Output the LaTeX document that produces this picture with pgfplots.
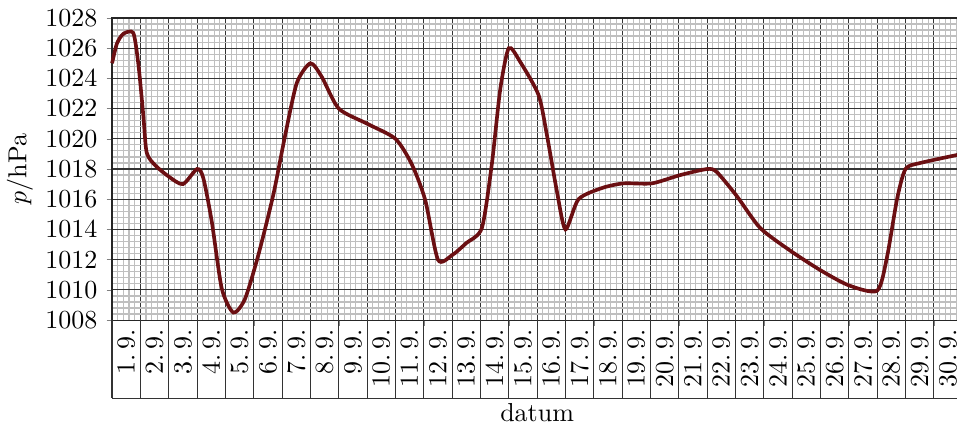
\documentclass[border=0pt]{standalone}
\usepackage{pgfplots}
\pgfplotsset{compat=1.18}
\definecolor{curve}{HTML}{6B0F12}
\begin{document}
\begin{tikzpicture}
\begin{axis}[
  scale only axis,
  width=326.9pt, height=116.2pt,
  xmin=0, xmax=30, ymin=1008, ymax=1028,
  clip=false,
  /pgf/number format/1000 sep={},
  xtick={0,1,...,30}, xticklabels={},
  ytick={1008,1010,...,1028},
  minor x tick num=4,
  minor ytick={1008.4,1008.8,1009.2,1009.6,1010.4,1010.8,1011.2,1011.6,1012.4,1012.8,1013.2,1013.6,1014.4,1014.8,1015.2,1015.6,1016.4,1016.8,1017.2,1017.6,1018.4,1018.8,1019.2,1019.6,1020.4,1020.8,1021.2,1021.6,1022.4,1022.8,1023.2,1023.6,1024.4,1024.8,1025.2,1025.6,1026.4,1026.8,1027.2,1027.6},
  grid=both,
  major grid style={black!80, line width=0.45pt},
  minor grid style={black!25, line width=0.45pt},
  axis line style={black!85, line width=0.45pt},
  tick align=outside, major tick length=2.1pt, minor tick length=0pt,
  xtick pos=bottom, ytick pos=left,
  extra x ticks={0.5,1.5,...,29.5},
  extra x tick labels={1.\,9.,2.\,9.,3.\,9.,4.\,9.,5.\,9.,6.\,9.,7.\,9.,8.\,9.,9.\,9.,10.\,9.,11.\,9.,12.\,9.,13.\,9.,14.\,9.,15.\,9.,16.\,9.,17.\,9.,18.\,9.,19.\,9.,20.\,9.,21.\,9.,22.\,9.,23.\,9.,24.\,9.,25.\,9.,26.\,9.,27.\,9.,28.\,9.,29.\,9.,30.\,9.},
  extra x tick style={grid=none, major tick length=0pt, xticklabel style={rotate=90, anchor=east}},
  xlabel={datum},
  xlabel style={at={(axis description cs:0.5,0)}, anchor=north, yshift=-28.7pt},
  ylabel={$p$/hPa},
  ylabel shift=-2pt,
]
\addplot[curve, line width=1.4pt, smooth, tension=0.42] coordinates {
(0,1025) (0.17,1026.3) (0.4,1026.95) (0.75,1027) (0.93,1024.9) (1.1,1021.6) (1.22,1019.1)
(1.52,1018.25) (2.0,1017.5) (2.5,1017) (3.0,1018) (3.22,1017.4) (3.52,1014.5) (3.87,1010.1)
(4.28,1008.5) (4.69,1009.4) (5.16,1012.3) (5.69,1016.3) (6.11,1020.25) (6.52,1023.7)
(7.0,1025) (7.4,1024.1) (8.0,1022) (9.0,1021) (10.0,1020) (10.58,1018.3) (11.05,1015.95)
(11.5,1012) (12.0,1012.3) (12.5,1013.1) (13.05,1014.1) (13.4,1018.3) (13.7,1023.3)
(14.0,1026) (14.4,1025.1) (15.05,1022.9) (15.34,1020.3) (15.7,1016.5) (16.0,1014)
(16.46,1016) (17.3,1016.75) (18.05,1017.05) (19.05,1017.05) (20.05,1017.6) (21.0,1018)
(21.34,1017.8) (22.05,1016.2) (22.87,1014.1) (23.93,1012.6) (25.0,1011.3) (26.0,1010.3)
(27.0,1009.95) (27.35,1012.2) (27.7,1016) (28.0,1018) (28.52,1018.4) (30,1019)
};
\pgfplotsinvokeforeach{0,...,30}{\draw[black!80, line width=0.45pt] (axis cs:#1,1008) -- ++(0pt,-30pt);}
\draw[black!80, line width=0.45pt] ([yshift=-30pt]axis cs:0,1008) -- ([yshift=-30pt]axis cs:30,1008);
\coordinate (TL) at (rel axis cs:0,1);
\end{axis}
\pgfresetboundingbox
\path[use as bounding box] ([shift={(-43.1pt,6.9pt)}]TL) rectangle ++(368pt,-162.7pt);
\end{tikzpicture}
\end{document}
